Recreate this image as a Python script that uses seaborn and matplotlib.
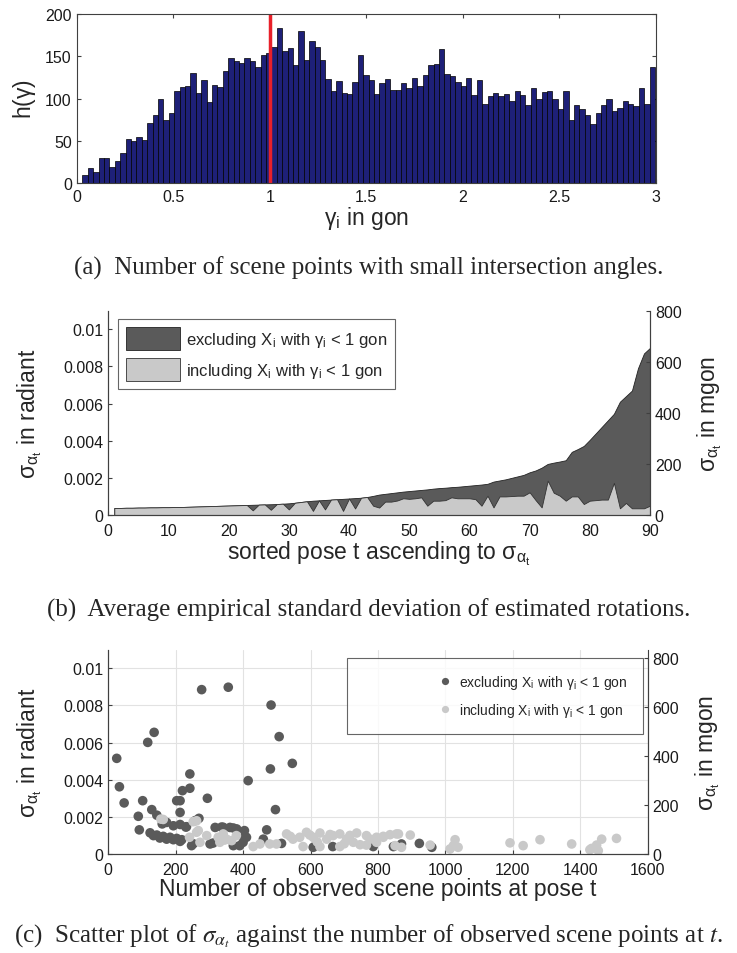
import numpy as np
import pandas as pd
import matplotlib
matplotlib.use("Agg")
import matplotlib.pyplot as plt
import seaborn as sns

# ---- data (a): histogram of intersection angles ----
hist_start = 0.029
hist_end = 2.995
hist_counts = [10, 18, 13, 30, 29, 19, 26, 35, 52, 50, 55, 51, 71, 81, 100, 75, 83, 109,
               114, 115, 130, 107, 122, 96, 116, 114, 133, 148, 144, 142, 148, 144, 137, 152, 154,
               161, 183, 156, 160, 140, 180, 146, 168, 161, 146, 123, 109, 121, 107, 105, 119,
               152, 128, 122, 105, 118, 123, 110, 110, 118, 112, 124, 115, 128, 140, 141, 158,
               129, 127, 119, 115, 124, 104, 122,
               94, 103, 107, 103, 105, 97, 109, 104, 92, 113, 100, 108, 109, 99, 88, 109, 74,
               92, 88, 80, 70, 83, 92, 99, 85, 89, 97, 93, 91, 113, 94, 137]
gamma_limit = 1.0

# ---- data (b): sorted pose vs sigma (1e-3 rad) ----
sigma_excl = [0.38, 0.38, 0.39, 0.39, 0.40, 0.40, 0.41, 0.41, 0.42, 0.42,
              0.43, 0.43, 0.44, 0.45, 0.46, 0.47, 0.48, 0.49, 0.50, 0.51,
              0.52, 0.53, 0.54, 0.55, 0.56, 0.57, 0.58, 0.59, 0.61, 0.63,
              0.66, 0.70, 0.74, 0.77, 0.79, 0.81, 0.83, 0.85, 0.87, 0.89,
              0.91, 0.93, 0.97, 1.03, 1.10, 1.14, 1.18, 1.22, 1.26, 1.29,
              1.32, 1.35, 1.38, 1.42, 1.45, 1.47, 1.50, 1.52, 1.55, 1.58,
              1.61, 1.64, 1.68, 1.80, 1.86, 1.92, 2.00, 2.08, 2.16, 2.30,
              2.40, 2.55, 2.75, 2.82, 2.88, 2.95, 3.40, 3.55, 3.72, 4.05,
              4.40, 4.75, 5.10, 5.45, 6.10, 6.40, 6.70, 7.90, 8.70, 9.00]
sigma_incl = [0.38, 0.38, 0.39, 0.39, 0.40, 0.40, 0.41, 0.41, 0.42, 0.42,
              0.43, 0.43, 0.44, 0.45, 0.46, 0.47, 0.48, 0.49, 0.50, 0.51,
              0.52, 0.53, 0.54, 0.25, 0.56, 0.57, 0.28, 0.59, 0.61, 0.30,
              0.66, 0.70, 0.74, 0.22, 0.79, 0.30, 0.83, 0.85, 0.22, 0.89,
              0.35, 0.93, 0.97, 0.50, 0.40, 0.72, 0.72, 0.78, 0.90, 0.87,
              0.90, 0.95, 0.50, 0.77, 0.77, 0.80, 0.95, 0.90, 0.90, 0.90,
              0.85, 0.50, 1.04, 0.41, 1.00, 1.00, 1.02, 1.04, 1.04, 1.22,
              0.80, 0.41, 1.85, 1.20, 1.04, 0.77, 1.00, 1.00, 0.59, 0.77,
              0.80, 0.83, 0.83, 1.73, 0.36, 0.65, 0.36, 0.36, 0.36, 0.50]

# ---- data (c): scatter, number of points vs sigma (1e-3 rad) ----
excl_n = [25, 33, 47, 89, 102, 92, 117, 136, 129, 144, 124, 144, 134, 153, 163, 173, 183,
          193, 203, 213, 218, 173, 193, 213, 232, 203, 213, 213, 220, 242, 242, 269, 277,
          294, 356, 317, 336, 361, 381, 404, 404, 410, 302, 247, 390, 371, 400, 311, 415,
          470, 460, 483, 481, 496, 507, 546, 514, 608, 666, 786, 846, 870, 923, 960, 341,
          371, 252, 258, 230, 160]
excl_s = [5.15, 3.62, 2.75, 2.03, 2.87, 1.30, 6.01, 6.55, 2.39, 2.09, 1.14, 1.02, 0.99,
          0.86, 0.95, 0.80, 0.90, 0.77, 0.84, 0.68, 0.77, 1.70, 1.52, 1.59, 1.47, 2.87,
          2.87, 2.24, 3.41, 3.54, 4.31, 1.92, 8.85, 3.00, 8.98, 1.43, 1.45, 1.43, 1.35,
          1.26, 0.90, 0.90, 0.54, 0.45, 0.45, 0.45, 0.63, 0.59, 3.95, 1.30, 0.80, 8.02,
          4.58, 2.39, 6.32, 4.88, 0.57, 0.36, 0.40, 0.40, 0.40, 0.54, 0.57, 0.36, 1.44,
          1.40, 0.55, 1.80, 1.45, 1.62]
incl_n = [156, 163, 252, 262, 241, 262, 267, 272, 292, 326, 341, 351, 331, 366, 380, 430,
          450, 479, 499, 529, 548, 568, 588, 608, 628, 648, 667, 687, 707, 737, 727, 766,
          796, 816, 836, 855, 578, 628, 687, 747, 777, 796, 816, 861, 896, 851, 870, 955,
          1029, 1024, 1038, 1014, 1192, 1231, 1281, 1375, 1434, 1449, 1464, 1508, 1429,
          1454, 766, 598, 658, 717, 540, 620, 700, 345]
incl_s = [1.88, 1.86, 1.74, 1.79, 0.90, 1.17, 1.26, 0.63, 0.99, 0.90, 1.08, 0.80, 0.63,
          0.72, 0.99, 0.40, 0.54, 0.54, 0.54, 1.08, 0.80, 0.90, 1.17, 0.90, 1.13, 0.80,
          0.99, 1.08, 0.80, 1.13, 0.63, 0.99, 0.63, 0.90, 1.04, 1.08, 0.40, 0.40, 0.40,
          0.50, 0.80, 0.90, 0.95, 1.08, 1.02, 0.45, 0.36, 0.48, 0.77, 0.45, 0.36, 0.27,
          0.60, 0.45, 0.77, 0.54, 0.30, 0.48, 0.80, 0.84, 0.23, 0.18, 0.48, 1.02, 1.05,
          1.00, 0.95, 0.65, 0.55, 0.75]

lbl_excl = r'excluding X$_\mathregular{i}$ with $\mathregular{\gamma_i}$ < 1 gon'
lbl_incl = r'including X$_\mathregular{i}$ with $\mathregular{\gamma_i}$ < 1 gon'
sig = r'$\mathregular{\sigma_{\alpha_t}}$'

# ---- style ----
sns.set_style("ticks", {"xtick.direction": "in", "ytick.direction": "in"})
plt.rcParams['font.family'] = ['Liberation Sans', 'DejaVu Sans']
plt.rcParams['mathtext.fontset'] = 'stix'
plt.rcParams['axes.edgecolor'] = '#404040'
plt.rcParams['axes.linewidth'] = 0.8
plt.rcParams['xtick.color'] = '#404040'
plt.rcParams['ytick.color'] = '#404040'
plt.rcParams['xtick.labelcolor'] = '#1a1a1a'
plt.rcParams['ytick.labelcolor'] = '#1a1a1a'
plt.rcParams['xtick.labelsize'] = 11.5
plt.rcParams['ytick.labelsize'] = 11.5
plt.rcParams['axes.labelsize'] = 16.5
plt.rcParams['xtick.major.size'] = 3
plt.rcParams['ytick.major.size'] = 3
plt.rcParams['xtick.major.pad'] = 6

DARK = '#5a5a5a'
LIGHT = '#c9c9c9'
W, H = 737, 954
CAP = 18

fig = plt.figure(figsize=(W / 100, H / 100), dpi=100)


def frame(l, r, t, b):
    return [l / W, 1 - b / H, (r - l) / W, (b - t) / H]


# ---- (a) histogram ----
edges = np.linspace(hist_start, hist_end, len(hist_counts) + 1)
centers = (edges[:-1] + edges[1:]) / 2
df_a = pd.DataFrame({'gamma': centers, 'count': hist_counts})
ax1 = fig.add_axes(frame(76.7, 656, 15, 184))
sns.histplot(data=df_a, x='gamma', weights='count', bins=list(edges), color='#1e2078',
             edgecolor='black', linewidth=0.5, alpha=1, ax=ax1)
ax1.axvline(gamma_limit, color='#e8202a', lw=2.5)
ax1.set_xlim(0, 3)
ax1.set_ylim(0, 200)
ax1.set_xticks([0, 0.5, 1, 1.5, 2, 2.5, 3])
ax1.set_xticklabels(['0', '0.5', '1', '1.5', '2', '2.5', '3'])
ax1.set_yticks([0, 50, 100, 150, 200])
ax1.tick_params(top=True, right=True)
ax1.tick_params(axis='x', pad=4)
ax1.set_xlabel(r'$\mathregular{\gamma_i}$ in gon', labelpad=0)
ax1.set_ylabel(r'h($\mathregular{\gamma}$)', labelpad=5)
fig.text(0.5, 1 - 268 / H, '(a)  Number of scene points with small intersection angles.',
         ha='center', va='center', family='Liberation Serif', fontsize=CAP)

# ---- (b) area plot ----
t = np.arange(1, len(sigma_excl) + 1)
ex = np.array(sigma_excl) * 1e-3
inc = np.array(sigma_incl) * 1e-3
ax2 = fig.add_axes(frame(108.3, 650, 311.7, 516))
ax2.fill_between(t, 0, ex, color=DARK, edgecolor='#222222', lw=0.6, label=lbl_excl)
ax2.fill_between(t, 0, inc, color=LIGHT, edgecolor='#333333', lw=0.6, label=lbl_incl)
ax2.set_xlim(0, 90)
ax2.set_ylim(0, 0.011)
ax2.set_xticks(range(0, 91, 10))
ax2.set_yticks([0, 0.002, 0.004, 0.006, 0.008, 0.01])
ax2.set_yticklabels(['0', '0.002', '0.004', '0.006', '0.008', '0.01'])
ax2.set_xlabel('sorted pose t ascending to ' + sig, labelpad=0)
ax2.set_ylabel(sig + ' in radiant', labelpad=14)
ax2.spines['top'].set_visible(False)
ax2r = ax2.twinx()
ax2r.set_ylim(0, 800)
ax2r.set_yticks([0, 200, 400, 600, 800])
ax2r.set_ylabel(sig + ' in mgon', labelpad=10)
ax2r.spines['top'].set_visible(False)
ax2r.tick_params(direction='in')
leg = ax2.legend(loc='upper left', bbox_to_anchor=(118 / W, 1 - 320 / H),
                 bbox_transform=fig.transFigure, fontsize=12, handlelength=3.25,
                 handleheight=1.8, frameon=True, fancybox=False, borderpad=0.45,
                 labelspacing=0.45, handletextpad=0.4, borderaxespad=0)
leg.get_frame().set_edgecolor('#404040')
leg.get_frame().set_linewidth(0.8)
fig.text(0.5, 1 - 610 / H, '(b)  Average empirical standard deviation of estimated rotations.',
         ha='center', va='center', family='Liberation Serif', fontsize=CAP)

# ---- (c) scatter ----
df_c = pd.concat([
    pd.DataFrame({'n': excl_n, 's': np.array(excl_s) * 1e-3, 'set': lbl_excl}),
    pd.DataFrame({'n': incl_n, 's': np.array(incl_s) * 1e-3, 'set': lbl_incl}),
])
ax3 = fig.add_axes(frame(108.3, 647.5, 650.7, 855))
ax3.grid(True, color='#e2e2e2', lw=0.8)
ax3.set_axisbelow(True)
sns.scatterplot(data=df_c, x='n', y='s', hue='set', palette=[DARK, LIGHT], s=48,
                edgecolor='none', ax=ax3)
ax3.set_xlim(0, 1600)
ax3.set_ylim(0, 0.011)
ax3.set_xticks(range(0, 1601, 200))
ax3.set_yticks([0, 0.002, 0.004, 0.006, 0.008, 0.01])
ax3.set_yticklabels(['0', '0.002', '0.004', '0.006', '0.008', '0.01'])
ax3.set_xlabel('Number of observed scene points at pose t', labelpad=0)
ax3.set_ylabel(sig + ' in radiant', labelpad=14)
ax3.spines['top'].set_visible(False)
ax3r = ax3.twinx()
ax3r.set_ylim(0, 834)
ax3r.set_yticks([0, 200, 400, 600, 800])
ax3r.spines['right'].set_bounds(0, 800)
ax3r.spines['top'].set_visible(False)
ax3r.set_ylabel(sig + ' in mgon', labelpad=10)
ax3r.tick_params(direction='in')
leg3 = ax3.legend(loc='upper right', bbox_to_anchor=(643 / W, 1 - 659 / H),
                  bbox_transform=fig.transFigure, fontsize=10, frameon=True,
                  fancybox=False, markerscale=0.75, borderpad=1.1, labelspacing=0.7,
                  handlelength=12.0, handletextpad=-5.0, borderaxespad=0)
leg3.get_frame().set_edgecolor('#404040')
leg3.get_frame().set_linewidth(0.8)
fig.text(0.5, 1 - 936 / H,
         r'(c)  Scatter plot of $\sigma_{\alpha_t}$ against the number of observed scene points at $t$.',
         ha='center', va='center', family='Liberation Serif', fontsize=CAP)

fig.savefig('out.png', dpi=100, facecolor='white')
